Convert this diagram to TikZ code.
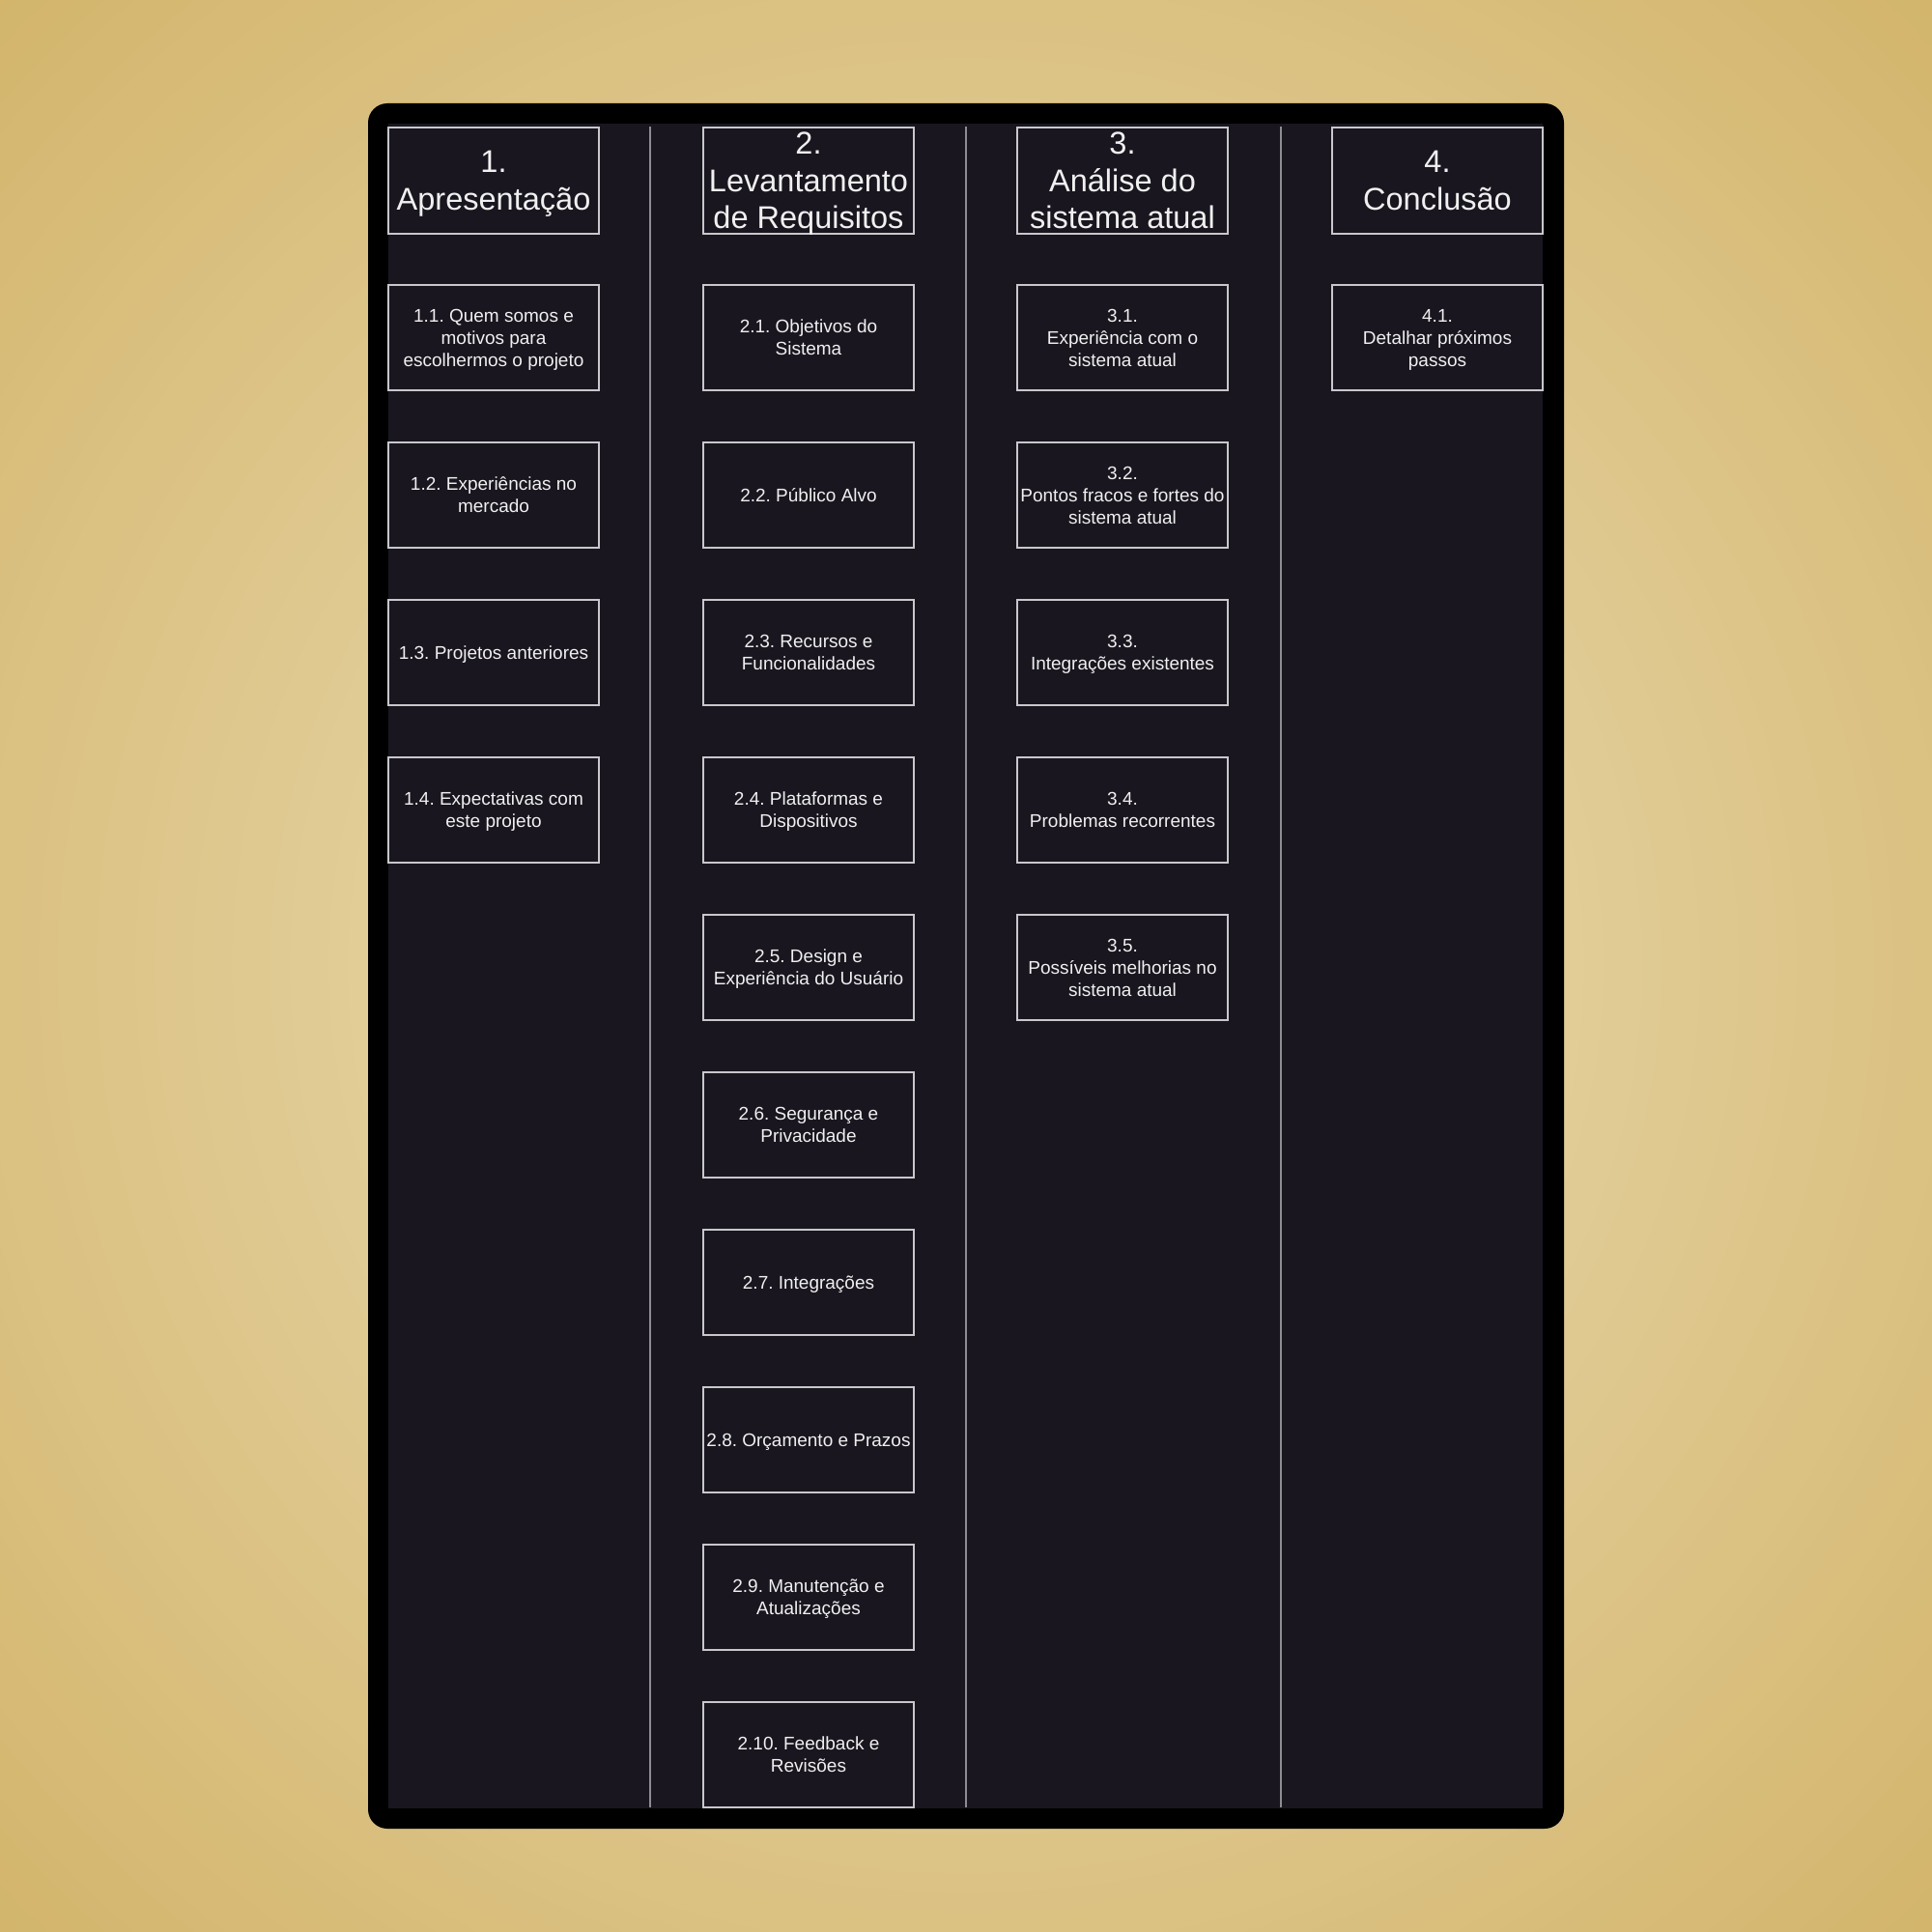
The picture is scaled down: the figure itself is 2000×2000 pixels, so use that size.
\documentclass[tikz,border=0pt]{standalone}
\usepackage{fontspec}
\setmainfont{Liberation Sans}
\definecolor{goldlight}{RGB}{226,205,152}
\definecolor{golddark}{RGB}{211,181,108}
\definecolor{panelc}{RGB}{25,22,31}
\definecolor{boxc}{RGB}{200,200,204}
\definecolor{divc}{RGB}{140,140,146}
\definecolor{txtc}{RGB}{240,240,240}
\newcommand\hs{\rule[-0.21\baselineskip]{0pt}{\baselineskip}}
\begin{document}
\frenchspacing
\begin{tikzpicture}[x=0.01cm,y=-0.01cm,
  hdrbox/.style={draw=boxc, line width=0.6pt, minimum width=2.18cm, minimum height=1.10cm, inner sep=0pt},
  hdrtext/.style={text=txtc, inner sep=0pt, align=center, font=\fontsize{9.25pt}{11pt}\selectfont},
  sub/.style={draw=boxc, line width=0.6pt, text=txtc, minimum width=2.18cm, minimum height=1.09cm, inner sep=0pt, align=center, font=\fontsize{5.4pt}{6.55pt}\selectfont},
  divider/.style={draw=divc, line width=0.6pt}]
\useasboundingbox (0,0) rectangle (2000,2000);
% background vignette
\begin{scope}
\clip (0,0) rectangle (2000,2000);
\fill[golddark] (0,0) rectangle (2000,2000);
\foreach \r in {1420,1400,...,400} {
  \pgfmathsetmacro{\p}{min(100,(1420-\r)/8)}
  \fill[goldlight!\p!golddark] (1000,1000) circle[radius={\r*0.01cm}];
}
\end{scope}
\fill[black, rounded corners=0.2cm] (381,107) rectangle (1619,1893);
\fill[panelc] (402,128) rectangle (1597,1872);
% dividers
\coordinate (d1t) at (673,131); \coordinate (d1b) at (673,1871);
\coordinate (d2t) at (1000,131); \coordinate (d2b) at (1000,1871);
\coordinate (d3t) at (1326,131); \coordinate (d3b) at (1326,1871);
\draw[divider] (d1t) -- (d1b);
\draw[divider] (d2t) -- (d2b);
\draw[divider] (d3t) -- (d3b);
% headers
\node[hdrbox] (h1) at (511,187) {};
\node[hdrbox] (h2) at (837,187) {};
\node[hdrbox] (h3) at (1162,187) {};
\node[hdrbox] (h4) at (1488,187) {};
\node[hdrtext] (t1) at (h1) {\hs 1.\\Apresentação\hs};
\node[hdrtext] (t2) at (h2) {\hs 2.\\Levantamento\\de Requisitos\hs};
\node[hdrtext] (t3) at (h3) {\hs 3.\\Análise do\\sistema atual\hs};
\node[hdrtext] (t4) at (h4) {\hs 4.\\Conclusão\hs};
% column 1
\node[sub] (a1) at (511,349.5) {\hs 1.1. Quem somos e\\motivos para\\escolhermos o projeto\hs};
\node[sub] (a2) at (511,512.5) {\hs 1.2. Experiências no\\mercado\hs};
\node[sub] (a3) at (511,675.5) {\hs 1.3. Projetos anteriores};
\node[sub] (a4) at (511,838.5) {\hs 1.4. Expectativas com\\este projeto\hs};
% column 2
\node[sub] (b1) at (837,349.5) {\hs 2.1. Objetivos do\\Sistema\hs};
\node[sub] (b2) at (837,512.5) {\hs 2.2. Público Alvo};
\node[sub] (b3) at (837,675.5) {\hs 2.3. Recursos e\\Funcionalidades\hs};
\node[sub] (b4) at (837,838.5) {\hs 2.4. Plataformas e\\Dispositivos\hs};
\node[sub] (b5) at (837,1001.5) {\hs 2.5. Design e\\Experiência do Usuário\hs};
\node[sub] (b6) at (837,1164.5) {\hs 2.6. Segurança e\\Privacidade\hs};
\node[sub] (b7) at (837,1327.5) {\hs 2.7. Integrações};
\node[sub] (b8) at (837,1490.5) {\hs 2.8. Orçamento e Prazos};
\node[sub] (b9) at (837,1653.5) {\hs 2.9. Manutenção e\\Atualizações\hs};
\node[sub] (b10) at (837,1816.5) {\hs 2.10. Feedback e\\Revisões\hs};
% column 3
\node[sub] (c1) at (1162,349.5) {\hs 3.1.\\Experiência com o\\sistema atual\hs};
\node[sub] (c2) at (1162,512.5) {\hs 3.2.\\Pontos fracos e fortes do\\sistema atual\hs};
\node[sub] (c3) at (1162,675.5) {\hs 3.3.\\Integrações existentes\hs};
\node[sub] (c4) at (1162,838.5) {\hs 3.4.\\Problemas recorrentes\hs};
\node[sub] (c5) at (1162,1001.5) {\hs 3.5.\\Possíveis melhorias no\\sistema atual\hs};
% column 4
\node[sub] (e1) at (1488,349.5) {\hs 4.1.\\Detalhar próximos\\passos\hs};
\end{tikzpicture}
\end{document}
